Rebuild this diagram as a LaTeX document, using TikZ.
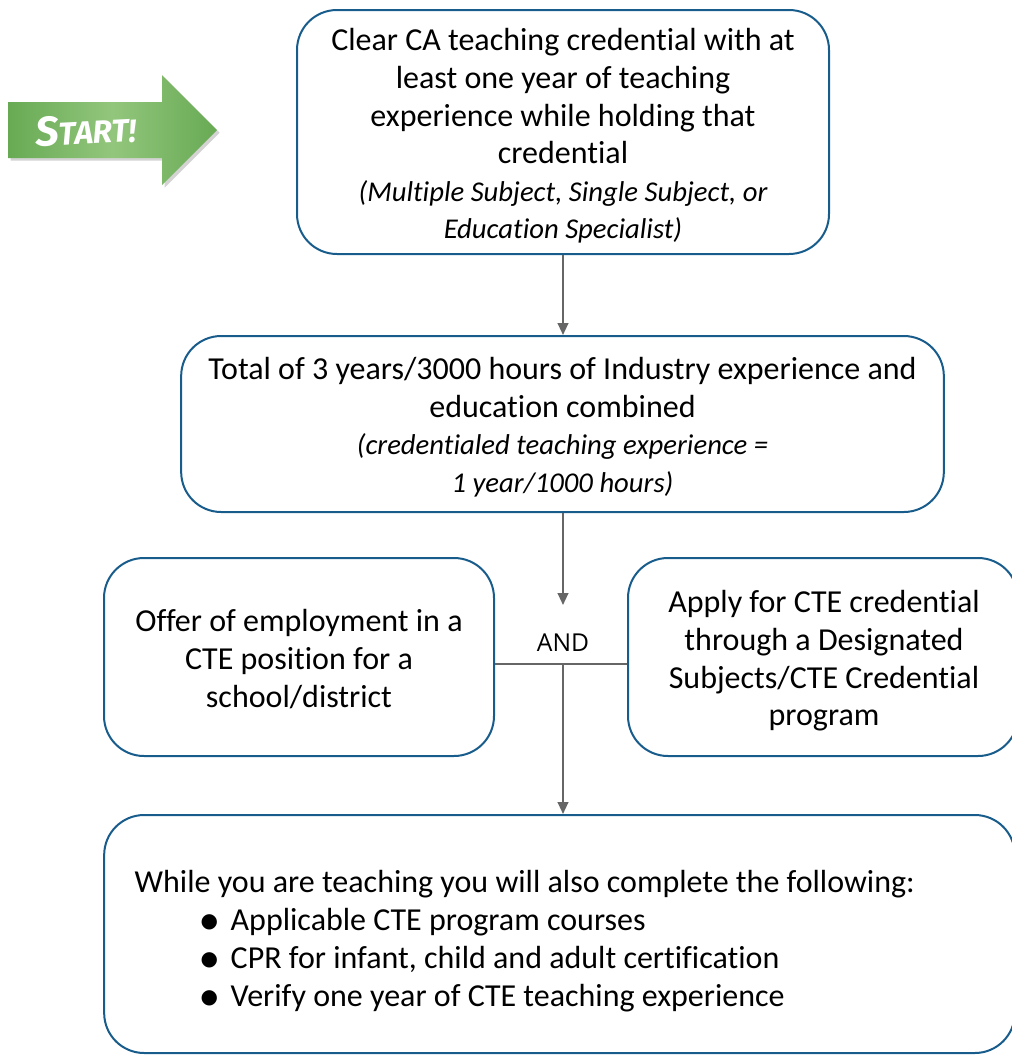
\documentclass[tikz,border=0pt]{standalone}
\usepackage{fontspec}
\setmainfont{Carlito}[Ligatures=NoCommon]
\newfontfamily\symfont{DejaVu Sans}
\newfontfamily\andfont{Open Sans}
\newfontfamily\startfont{Fira Sans}
\usetikzlibrary{arrows.meta,shadows}
\definecolor{boxblue}{RGB}{24,92,140}
\definecolor{linegray}{RGB}{102,102,102}
\definecolor{gedge}{RGB}{104,170,84}
\definecolor{gmid}{RGB}{146,198,124}
\tikzset{
  flowbox/.style={draw=boxblue, line width=1.5pt, rounded corners=30pt, inner sep=0pt},
  maintext/.style={align=center, font={\fontsize{24}{28.2}\selectfont}},
  conn/.style={draw=linegray, line width=1.5pt},
  connarrow/.style={conn, -{Triangle[length=9pt,width=8pt]}},
}
\newcommand{\itl}[1]{{\fontsize{21.5}{27}\selectfont\itshape #1}}
\newcommand{\bul}{\makebox[22.5pt][l]{\raisebox{2pt}{\symfont\fontsize{15}{15}\selectfont ●}}}
\begin{document}
\begin{tikzpicture}[x=0.75pt,y=-0.75pt]
\useasboundingbox (0,0) rectangle (1012,1057);
% start arrow
\path[drop shadow={opacity=0.35,shadow xshift=2pt,shadow yshift=-2pt},
      left color=gedge, right color=gedge, middle color=gmid]
  (8,102) -- (162,102) -- (162,75) -- (217,130) -- (162,185) -- (162,158) -- (8,158) -- cycle;
\node[text=white, font=\startfont\bfseries\itshape, rotate=3] (start) at (86,130)
  {{\fontsize{31}{31}\selectfont S}{\fontsize{24}{24}\selectfont TART!}};
% boxes
\node[flowbox, minimum width=399pt, minimum height=183pt] (b1) at (563,132) {};
\node[maintext] (t1) at (563,136) {Clear CA teaching credential with at\\least one year of teaching\\experience while holding that\\credential\\\itl{(Multiple Subject, Single Subject, or}\\\itl{Education Specialist)}};
\node[flowbox, minimum width=572pt, minimum height=132pt] (b2) at (562.5,424) {};
\node[maintext] (t2) at (562.5,427) {Total of 3 years/3000 hours of Industry experience and\\education combined\\\itl{(credentialed teaching experience =}\\\itl{1 year/1000 hours)}};
\node[flowbox, minimum width=292.5pt, minimum height=148.5pt] (b3) at (299,657) {};
\node[maintext] (t3) at (299,659) {Offer of employment in a\\CTE position for a\\school/district};
\node[flowbox, minimum width=292.5pt, minimum height=148.5pt] (b4) at (823,657) {};
\node[maintext] (t4) at (824,661) {Apply for CTE credential\\through a Designated\\Subjects/CTE Credential\\program};
\node[flowbox, minimum width=683pt, minimum height=178.5pt] (b5) at (559.5,934) {};
\node[align=left, anchor=west, font={\fontsize{24}{28.5}\selectfont}] (t5) at (130,941)
  {While you are teaching you will also complete the following:\\
   \hspace*{49.5pt}\bul Applicable CTE program courses\\
   \hspace*{49.5pt}\bul CPR for infant, child and adult certification\\
   \hspace*{49.5pt}\bul Verify one year of CTE teaching experience};
% connectors
\coordinate (a2) at (563,605);
\coordinate (jc) at (563,664);
\node[font={\andfont\fontsize{18.5}{18.5}\selectfont}] (and) at (563,643) {AND};
\draw[connarrow] (b1.south -| 563,0) -- (b2.north -| 563,0);
\draw[connarrow] (b2.south -| 563,0) -- (a2);
\draw[conn] (b3.east |- jc) -- (b4.west |- jc);
\draw[connarrow] (jc) -- (jc |- b5.north);
\end{tikzpicture}
\end{document}
